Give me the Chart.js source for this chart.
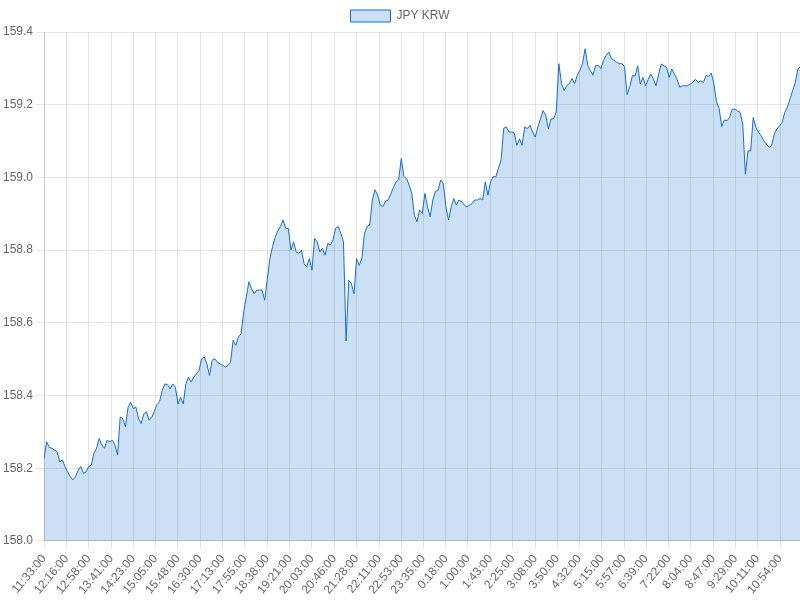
<!DOCTYPE html>
<html>
<head>
<meta charset="utf-8">
<script src="https://cdn.jsdelivr.net/npm/chart.js@4/dist/chart.umd.min.js"></script>
<style>
html,body{margin:0;padding:0;background:#fff;}
#wrap{width:800px;height:600px;position:relative;}
</style>
</head>
<body>
<div id="wrap"><canvas id="c"></canvas></div>
<script>
// Series name
const SERIES_LABEL = 'JPY KRW';
// Time of first sample and sample spacing (minutes)
const START_TIME = '11:33:00';
const STEP_MINUTES = 5;
// Values, one every 5 minutes starting at 11:33
const values = [
158.227,158.273,158.257,158.255,158.250,158.245,158.218,158.223,158.205,158.190,
158.177,158.168,158.177,158.195,158.205,158.186,158.190,158.205,158.209,158.241,
158.255,158.282,158.264,158.255,158.277,158.273,158.277,158.264,158.236,158.341,
158.336,158.314,158.368,158.382,158.364,158.368,158.336,158.323,158.350,158.355,
158.332,158.340,158.357,158.375,158.384,158.414,158.432,158.430,158.418,158.432,
158.423,158.377,158.395,158.377,158.432,158.450,158.437,158.450,158.460,158.469,
158.501,158.506,158.487,158.455,158.497,158.501,158.492,158.487,158.483,158.478,
158.483,158.492,158.552,158.538,158.561,158.570,158.630,158.671,158.713,158.694,
158.680,158.690,158.690,158.690,158.662,158.720,158.777,158.810,158.835,158.853,
158.865,158.883,158.860,158.860,158.800,158.823,158.795,158.791,158.800,158.763,
158.754,158.777,158.745,158.832,158.823,158.795,158.805,158.786,158.818,158.814,
158.828,158.860,158.865,158.846,158.823,158.550,158.717,158.708,158.680,158.777,
158.758,158.777,158.846,158.865,158.869,158.938,158.966,158.952,158.924,158.920,
158.934,158.938,158.954,158.972,158.988,158.993,159.052,159.002,158.997,158.979,
158.956,158.896,158.878,158.910,158.901,158.956,158.919,158.892,158.938,158.961,
158.965,158.993,158.983,158.919,158.883,158.919,158.942,158.924,158.938,158.933,
158.924,158.919,158.924,158.928,158.938,158.938,158.942,158.938,158.988,158.951,
158.988,159.002,159.002,159.025,159.048,159.135,159.139,159.125,159.125,159.123,
159.088,159.106,159.088,159.139,159.134,159.143,159.125,159.111,159.139,159.161,
159.184,159.171,159.134,159.161,159.161,159.180,159.313,159.258,159.239,159.253,
159.258,159.272,159.258,159.281,159.294,159.313,159.354,159.308,159.294,159.281,
159.308,159.308,159.299,159.322,159.336,159.345,159.327,159.322,159.317,159.313,
159.313,159.304,159.228,159.250,159.280,159.279,159.307,159.257,159.275,159.252,
159.270,159.284,159.270,159.252,159.284,159.312,159.307,159.303,159.275,159.298,
159.284,159.270,159.248,159.252,159.252,159.252,159.257,159.261,159.270,159.261,
159.266,159.261,159.280,159.278,159.287,159.259,159.208,159.190,159.140,159.158,
159.156,159.165,159.188,159.188,159.183,159.179,159.147,159.009,159.073,159.073,
159.165,159.138,159.124,159.115,159.101,159.092,159.083,159.087,159.119,159.133,
159.142,159.151,159.179,159.193,159.216,159.239,159.261,159.298,159.305
];
// X axis tick labels shown in the chart
const tickLabels = ['11:33:00','12:16:00','12:58:00','13:41:00','14:23:00','15:05:00','15:48:00','16:30:00',
'17:13:00','17:55:00','18:38:00','19:21:00','20:03:00','20:46:00','21:28:00','22:11:00','22:53:00','23:35:00',
'0:18:00','1:00:00','1:43:00','2:25:00','3:08:00','3:50:00','4:32:00','5:15:00','5:57:00','6:39:00',
'7:22:00','8:04:00','8:47:00','9:29:00','10:11:00','10:54:00'];
// Y axis range
const Y_MIN = 158.0, Y_MAX = 159.4, Y_STEP = 0.2;
const X_SPAN_MINUTES = 1439;

function toMin(t){const p=t.split(':').map(Number);return p[0]*60+p[1];}
const startMin = toMin(START_TIME);
const tickMinutes = tickLabels.map(t => ((toMin(t) - startMin) % 1440 + 1440) % 1440);
const points = values.map((v,i)=>({x:i*STEP_MINUTES, y:v}));

new Chart(document.getElementById('c'), {
  type: 'line',
  data: {
    datasets: [{
      label: SERIES_LABEL,
      data: points,
      borderColor: 'rgb(20,110,210)',
      backgroundColor: 'rgba(20,110,210,0.22)',
      borderWidth: 1,
      pointRadius: 0,
      pointHoverRadius: 0,
      fill: 'origin',
      tension: 0
    }]
  },
  options: {
    responsive: true,
    maintainAspectRatio: false,
    animation: false,
    plugins: {
      legend: { display: true, position: 'top', labels: { color: '#666' } },
      tooltip: { enabled: false }
    },
    scales: {
      x: {
        type: 'linear',
        min: 0,
        max: X_SPAN_MINUTES,
        afterBuildTicks: (axis) => { axis.ticks = tickMinutes.map(v => ({value: v})); },
        ticks: {
          autoSkip: false,
          maxRotation: 50,
          color: '#666',
          callback: (v, idx) => tickLabels[idx]
        },
        grid: { color: 'rgba(0,0,0,0.1)' }
      },
      y: {
        min: Y_MIN,
        max: Y_MAX,
        ticks: { stepSize: Y_STEP, color: '#666' },
        grid: { color: 'rgba(0,0,0,0.1)' }
      }
    }
  }
});
</script>
</body>
</html>
